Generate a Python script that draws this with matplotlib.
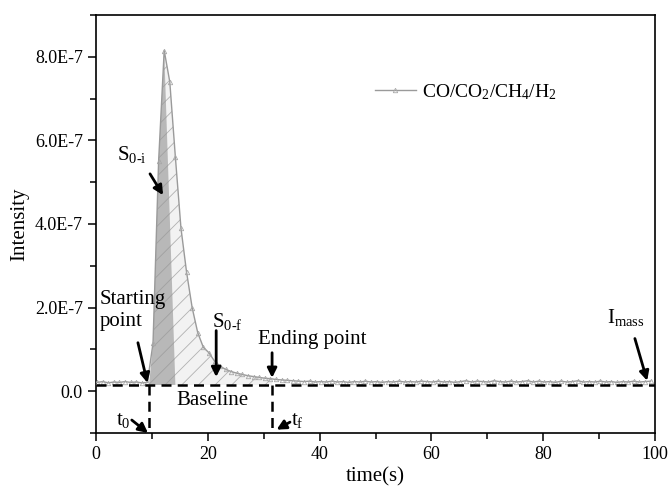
import numpy as np
import matplotlib
matplotlib.use("Agg")
import matplotlib.pyplot as plt
from matplotlib.ticker import MultipleLocator, FuncFormatter

plt.rcParams['font.family'] = ['Liberation Serif', 'DejaVu Serif']
plt.rcParams['mathtext.fontset'] = 'custom'
plt.rcParams['mathtext.rm'] = 'Liberation Serif'
plt.rcParams['mathtext.it'] = 'Liberation Serif:italic'
plt.rcParams['hatch.color'] = '#a8a8a8'
plt.rcParams['hatch.linewidth'] = 0.6

# ---------------- data ----------------
time_start = 0.2
time_step = 1.0
intensity_e7 = [
    0.21, 0.23, 0.20, 0.22, 0.21, 0.23, 0.21, 0.22, 0.20, 0.21,
    1.15, 5.50, 8.15, 7.40, 5.60, 3.90, 2.85, 2.00, 1.40, 1.05,
    0.92, 0.72, 0.60, 0.52, 0.47, 0.43, 0.40, 0.37, 0.35, 0.33,
    0.31, 0.30, 0.28, 0.27, 0.26, 0.25, 0.24, 0.23, 0.24, 0.22,
    0.23, 0.22, 0.24, 0.22, 0.23, 0.21, 0.23, 0.22, 0.24, 0.22,
    0.23, 0.21, 0.23, 0.22, 0.24, 0.22, 0.23, 0.22, 0.24, 0.23,
    0.22, 0.24, 0.22, 0.23, 0.21, 0.23, 0.25, 0.22, 0.24, 0.23,
    0.22, 0.25, 0.23, 0.22, 0.24, 0.22, 0.23, 0.25, 0.22, 0.24,
    0.22, 0.23, 0.21, 0.24, 0.22, 0.23, 0.25, 0.22, 0.23, 0.22,
    0.24, 0.22, 0.23, 0.21, 0.23, 0.22, 0.24, 0.22, 0.23, 0.24,
]
baseline_e7 = 0.15
t0 = 9.5
tf = 31.5
peak_idx = 12
dark_end = 14.2
series_label = 'CO/CO$_2$/CH$_4$/H$_2$'
ytick_major_e7 = [0, 2, 4, 6, 8]

SCALE = 1e-7
intensity = np.array(intensity_e7) * SCALE
time = time_start + time_step * np.arange(len(intensity))
baseline = baseline_e7 * SCALE

# ---------------- figure ----------------
fig = plt.figure(figsize=(6.70, 4.88), dpi=100)
ax = fig.add_axes([96/670, 55/488, 559/670, 418/488])

# light hatched area (S0-f)
mask = (time > t0) & (time < tf)
xf = np.concatenate([[t0], time[mask], [tf]])
yf = np.concatenate([[baseline], intensity[mask],
                     [np.interp(tf, time, intensity)]])
ax.fill_between(xf, yf, baseline, facecolor='#f2f2f2', edgecolor='#b0b0b0',
                hatch='//', linewidth=0, zorder=1)

# dark area (S0-i)
rise = (time > t0) & (time <= time[peak_idx])
xd = np.concatenate([[t0], time[rise], [dark_end]])
yd = np.concatenate([[baseline], intensity[rise], [baseline]])
ax.fill(xd, yd, facecolor='#b8b8b8', edgecolor='#a0a0a0', hatch='//',
        linewidth=0, zorder=2)

# series
ax.plot(time, intensity, color='#9a9a9a', lw=1.0, marker='^', ms=3.2,
        mfc='none', mec='#a8a8a8', mew=0.6, label=series_label, zorder=3)

# dashed baseline and vertical markers
ax.plot([0, 100], [baseline, baseline], color='black', lw=1.8,
        dashes=(4, 2.5), zorder=4)
for tx in (t0, tf):
    ax.plot([tx, tx], [baseline, -1.0e-7], color='black', lw=1.8,
            dashes=(4, 2.5), zorder=4, clip_on=False)

ax.set_xlim(0, 100)
ax.set_ylim(-1.0e-7, 9.0e-7)

ax.xaxis.set_major_locator(MultipleLocator(20))
ax.xaxis.set_minor_locator(MultipleLocator(10))
ax.set_yticks([v * SCALE for v in ytick_major_e7])
ax.yaxis.set_minor_locator(MultipleLocator(1e-7))
ax.yaxis.set_major_formatter(FuncFormatter(
    lambda v, p: '0.0' if abs(v) < 1e-12 else f'{v/SCALE:.1f}E-7'))

ax.tick_params(which='both', direction='out', top=False, right=False,
               labelsize=13, width=1.1)
ax.tick_params(which='major', length=6)
ax.tick_params(which='minor', length=4)
for s in ax.spines.values():
    s.set_linewidth(1.2)

ax.set_xlabel('time(s)', fontsize=15, labelpad=3)
ax.set_ylabel('Intensity', fontsize=15, labelpad=4)

leg = ax.legend(loc='center left', bbox_to_anchor=(0.485, 0.816),
                frameon=False, fontsize=14, handlelength=2.1,
                handletextpad=0.3, borderaxespad=0)

# ---------------- annotations ----------------
fs = 15
aprops = dict(arrowstyle='-|>', lw=2, color='black', mutation_scale=14,
              shrinkA=0, shrinkB=0)

ax.text(3.75, 5.53e-7, 'S$_{\\text{0-i}}$', fontsize=fs, va='baseline')
ax.annotate('', xy=(12.0, 4.69e-7), xytext=(9.66, 5.2e-7), arrowprops=aprops)

ax.text(0.7, 1.93e-7, 'Starting\npoint', fontsize=fs, va='center',
        linespacing=1.25)
ax.annotate('', xy=(9.2, 0.2e-7), xytext=(7.5, 1.16e-7), arrowprops=aprops)

ax.text(20.75, 1.54e-7, 'S$_{\\text{0-f}}$', fontsize=fs, va='baseline')
ax.annotate('', xy=(21.5, 0.34e-7), xytext=(21.5, 1.45e-7), arrowprops=aprops)

ax.text(38.6, 1.13e-7, 'Ending point', fontsize=fs, va='baseline', ha='center')
ax.annotate('', xy=(31.5, 0.32e-7), xytext=(31.5, 0.92e-7), arrowprops=aprops)

ax.text(20.8, -0.23e-7, 'Baseline', fontsize=fs, va='center', ha='center')

ax.text(3.6, -0.8e-7, 't$_0$', fontsize=fs, va='baseline')
ax.annotate('', xy=(9.3, -1.0e-7), xytext=(6.4, -0.69e-7), arrowprops=aprops,
            annotation_clip=False)

ax.text(34.8, -0.8e-7, 't$_\\text{f}$', fontsize=fs, va='baseline')
ax.annotate('', xy=(32.3, -0.92e-7), xytext=(34.7, -0.74e-7), arrowprops=aprops,
            annotation_clip=False)

ax.text(91.4, 1.62e-7, 'I$_{\\text{mass}}$', fontsize=fs, va='baseline')
ax.annotate('', xy=(98.6, 0.25e-7), xytext=(96.4, 1.26e-7), arrowprops=aprops)

fig.savefig('out.png', dpi=100)
